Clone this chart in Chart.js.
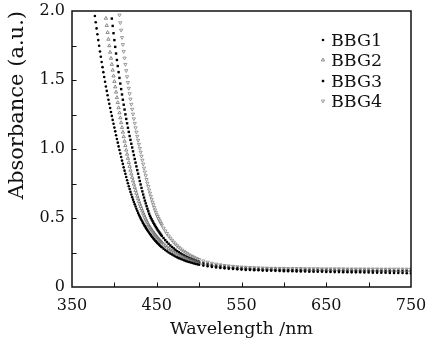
<!DOCTYPE html>
<html><head><meta charset="utf-8">
<style>html,body{margin:0;padding:0;background:#fff;}canvas{display:block;}</style>
<script src="https://cdn.jsdelivr.net/npm/chart.js@4.4.0/dist/chart.umd.min.js"></script>
</head><body>
<canvas id="c" width="427" height="344"></canvas>
<script>
const wavelengths = [
370,371,372,373,374,375,376,377,378,379,380,381,382,383,384,385,386,387,388,389,
390,391,392,393,394,395,396,397,398,399,400,401,402,403,404,405,406,407,408,409,
410,411,412,413,414,415,416,417,418,419,420,421,422,423,424,425,426,427,428,429,
430,431,432,433,434,435,436,437,438,439,440,441,442,443,444,445,446,447,448,449,
450,451,452,453,454,455,456,
458,460,462,464,466,468,470,472,474,476,478,480,482,484,486,488,490,492,494,496,498,500,
505,510,515,520,525,530,535,540,545,550,555,560,565,570,575,580,585,590,595,600,
605,610,615,620,625,630,635,640,645,650,655,660,665,670,675,680,685,690,695,700,
705,710,715,720,725,730,735,740,745,750];

const bbg1 = [
null,null,null,null,null,null,null,
1.964,1.918,1.874,1.831,1.789,1.748,1.707,1.668,1.630,1.593,1.557,1.522,1.487,
1.453,1.421,1.389,1.357,1.327,1.297,1.268,1.240,1.211,1.183,1.155,1.128,1.100,1.073,1.046,1.019,0.993,0.967,0.942,0.916,
0.892,0.867,0.843,0.820,0.797,0.774,0.752,0.730,0.710,0.689,0.670,0.651,0.633,0.616,0.599,0.583,0.567,0.552,0.537,0.523,
0.510,0.497,0.485,0.474,0.462,0.451,0.441,0.430,0.421,0.411,0.402,0.393,0.384,0.376,0.367,0.360,0.352,0.345,0.337,0.331,
0.324,0.317,0.311,0.305,0.299,0.294,0.288,
0.278,0.268,0.259,0.250,0.242,0.235,0.228,0.221,0.215,0.209,0.204,0.199,0.194,0.189,0.185,0.181,0.177,0.174,0.170,0.167,0.164,0.161,
0.155,0.150,0.145,0.141,0.138,0.135,0.132,0.130,0.128,0.126,0.124,0.123,0.122,0.121,0.119,0.118,0.118,0.117,0.116,0.115,
0.115,0.114,0.113,0.113,0.112,0.111,0.111,0.110,0.110,0.109,0.109,0.108,0.108,0.107,0.107,0.106,0.106,0.106,0.105,0.105,
0.104,0.104,0.103,0.103,0.102,0.102,0.101,0.101,0.100,0.100];

const bbg2 = [
null,null,null,null,null,null,null,null,null,null,null,null,null,null,null,null,null,null,null,null,
1.947,1.895,1.844,1.795,1.748,1.701,1.657,1.613,1.571,1.529,1.489,1.450,1.412,1.373,1.336,1.299,1.262,1.226,1.191,1.156,
1.122,1.089,1.056,1.024,0.992,0.962,0.932,0.902,0.874,0.846,0.819,0.794,0.769,0.745,0.722,0.700,0.679,0.658,0.639,0.620,
0.601,0.584,0.567,0.551,0.535,0.520,0.505,0.491,0.478,0.465,0.452,0.442,0.432,0.423,0.414,0.405,0.396,0.388,0.379,0.372,
0.364,0.357,0.349,0.343,0.336,0.329,0.323,
0.311,0.300,0.289,0.279,0.270,0.261,0.253,0.246,0.239,0.232,0.225,0.220,0.214,0.209,0.204,0.199,0.195,0.191,0.187,0.184,0.180,0.177,
0.170,0.164,0.158,0.154,0.150,0.147,0.144,0.141,0.139,0.137,0.136,0.134,0.133,0.132,0.131,0.130,0.129,0.129,0.128,0.128,
0.127,0.127,0.126,0.126,0.126,0.125,0.125,0.125,0.124,0.124,0.124,0.124,0.123,0.123,0.123,0.123,0.122,0.122,0.122,0.122,
0.121,0.121,0.121,0.121,0.121,0.120,0.120,0.120,0.120,0.120];

const bbg3 = [
null,null,null,null,null,null,null,null,null,null,null,null,null,null,null,null,null,null,null,null,
null,null,null,null,null,null,null,
1.945,1.892,1.839,1.789,1.740,1.692,1.645,1.601,1.557,1.515,1.474,1.434,1.395,
1.357,1.321,1.286,1.251,1.218,1.186,1.154,1.124,1.094,1.066,1.038,1.011,0.983,0.956,0.928,0.901,0.874,0.847,0.821,0.794,
0.768,0.743,0.718,0.693,0.670,0.648,0.626,0.606,0.586,0.567,0.549,0.531,0.515,0.502,0.490,0.478,0.466,0.455,0.445,0.434,
0.424,0.414,0.405,0.396,0.387,0.379,0.370,
0.355,0.340,0.326,0.313,0.301,0.290,0.280,0.270,0.260,0.252,0.244,0.236,0.229,0.222,0.216,0.210,0.205,0.200,0.195,0.190,0.186,0.182,
0.173,0.166,0.159,0.154,0.149,0.145,0.141,0.138,0.136,0.134,0.132,0.130,0.129,0.128,0.126,0.126,0.125,0.124,0.124,0.123,
0.122,0.122,0.122,0.121,0.121,0.120,0.120,0.120,0.119,0.119,0.119,0.118,0.118,0.118,0.118,0.117,0.117,0.117,0.117,0.117,
0.116,0.116,0.116,0.116,0.116,0.115,0.115,0.115,0.115,0.115];

const bbg4 = [
null,null,null,null,null,null,null,null,null,null,null,null,null,null,null,null,null,null,null,null,
null,null,null,null,null,null,null,null,null,null,null,null,null,null,null,null,
1.971,1.915,1.861,1.808,
1.757,1.707,1.659,1.613,1.568,1.524,1.482,1.440,1.401,1.362,1.324,1.288,1.253,1.219,1.186,1.154,1.123,1.092,1.063,1.034,
1.005,0.977,0.948,0.919,0.891,0.862,0.834,0.807,0.779,0.753,0.728,0.703,0.680,0.657,0.636,0.615,0.596,0.577,0.558,0.541,
0.524,0.511,0.497,0.485,0.472,0.460,0.449,
0.427,0.407,0.388,0.370,0.354,0.339,0.325,0.311,0.299,0.288,0.277,0.267,0.258,0.250,0.242,0.234,0.227,0.221,0.215,0.209,0.204,0.199,
0.189,0.180,0.172,0.166,0.161,0.156,0.153,0.150,0.147,0.145,0.143,0.141,0.140,0.139,0.138,0.137,0.136,0.136,0.135,0.135,
0.134,0.134,0.134,0.134,0.133,0.133,0.133,0.133,0.132,0.132,0.132,0.132,0.132,0.132,0.131,0.131,0.131,0.131,0.131,0.131,
0.131,0.131,0.130,0.130,0.130,0.130,0.130,0.130,0.130,0.130];

const seriesNames = ['BBG1','BBG2','BBG3','BBG4'];
const xTickValues = [350,450,550,650,750];
const xTickLabels = ['350','450','550','650','750'];
const yTickValues = [0,0.5,1,1.5,2];
const yTickLabels = ['0','0.5','1.0','1.5','2.0'];

const seriesValues = [bbg1,bbg2,bbg3,bbg4];
function toPoints(arr){
  const out=[];
  wavelengths.forEach((w,i)=>{ if(arr[i]!==null) out.push({x:w,y:arr[i]}); });
  return out;
}
const markerStyles = [
  {pointStyle:'circle',   radius:1.3, fill:'#000', stroke:'#000', bw:0,   rot:0},
  {pointStyle:'triangle', radius:1.9, fill:'rgba(0,0,0,0)', stroke:'#707070', bw:0.8, rot:0},
  {pointStyle:'rect',     radius:1.7, fill:'#000', stroke:'#000', bw:0,   rot:0},
  {pointStyle:'triangle', radius:1.9, fill:'rgba(0,0,0,0)', stroke:'#858585', bw:0.8, rot:180}
];
const SERIF = "'DejaVu Serif', serif";

const framePlugin = {
  id:'frame',
  afterDraw(chart){
    const {ctx, chartArea:{left,right,top,bottom}, scales:{x,y}} = chart;
    ctx.save();
    ctx.strokeStyle='#111';
    ctx.lineWidth=1;
    ctx.beginPath();
    x.ticks.forEach(t=>{
      if(t.value<=x.min||t.value>=x.max) return;
      const px=Math.round(x.getPixelForValue(t.value))+0.5;
      ctx.moveTo(px,bottom); ctx.lineTo(px,bottom-4.5);
    });
    y.ticks.forEach(t=>{
      if(t.value<=y.min||t.value>=y.max) return;
      const py=Math.round(y.getPixelForValue(t.value))+0.5;
      ctx.moveTo(left,py); ctx.lineTo(left+4.5,py);
    });
    ctx.stroke();
    ctx.lineWidth=1.5;
    ctx.strokeRect(left,top,right-left,bottom-top);
    const rows=[40,60,81,101];
    ctx.font = "17.5px " + SERIF;
    ctx.textBaseline='middle';
    ctx.textAlign='left';
    chart.data.datasets.forEach((ds,i)=>{
      const m=markerStyles[i];
      ctx.fillStyle=m.fill; ctx.strokeStyle=m.stroke; ctx.lineWidth=m.bw||0.0001;
      Chart.helpers.drawPoint(ctx,{pointStyle:m.pointStyle,radius:m.radius,rotation:m.rot,borderWidth:m.bw},323,rows[i]);
      ctx.fillStyle='#111';
      ctx.fillText(ds.label,331,rows[i]+1);
    });
    ctx.restore();
  }
};

new Chart(document.getElementById('c'),{
  type:'scatter',
  data:{datasets: seriesValues.map((arr,i)=>({
    label:seriesNames[i],
    data:toPoints(arr),
    showLine:false,
    pointStyle:markerStyles[i].pointStyle,
    pointRadius:markerStyles[i].radius,
    pointHoverRadius:markerStyles[i].radius,
    pointRotation:markerStyles[i].rot,
    pointBackgroundColor:markerStyles[i].fill,
    pointBorderColor:markerStyles[i].stroke,
    pointBorderWidth:markerStyles[i].bw
  }))},
  options:{
    responsive:false, animation:false, devicePixelRatio:1,
    layout:{padding:{top:11,right:16,left:0,bottom:0}},
    plugins:{legend:{display:false},tooltip:{enabled:false}},
    events:[],
    scales:{
      x:{type:'linear',min:350,max:750,
        afterFit(s){s.height=57;s.paddingLeft=0;s.paddingRight=0;},
        grid:{display:false,drawTicks:false},border:{display:false},
        ticks:{stepSize:50,autoSkip:false,maxRotation:0,color:'#111',padding:9,
          font:{family:SERIF,size:16},
          callback:(v)=>{const k=xTickValues.indexOf(v);return k>=0?xTickLabels[k]:'';}},
        title:{display:true,text:'Wavelength /nm',color:'#111',
          font:{family:SERIF,size:17.5},padding:{top:0,bottom:4}}
      },
      y:{type:'linear',min:0,max:2,
        afterFit(s){s.width=72;s.paddingTop=0;s.paddingBottom=0;},
        grid:{display:false,drawTicks:false},border:{display:false},
        ticks:{stepSize:0.25,autoSkip:false,color:'#111',padding:7,
          font:{family:SERIF,size:16},
          callback:(v)=>{const k=yTickValues.indexOf(v);return k>=0?yTickLabels[k]:'';}},
        title:{display:true,text:'Absorbance (a.u.)',align:'end',color:'#111',
          font:{family:SERIF,size:21},padding:{top:5,bottom:0}}
      }
    }
  },
  plugins:[framePlugin]
});
</script>
</body></html>
